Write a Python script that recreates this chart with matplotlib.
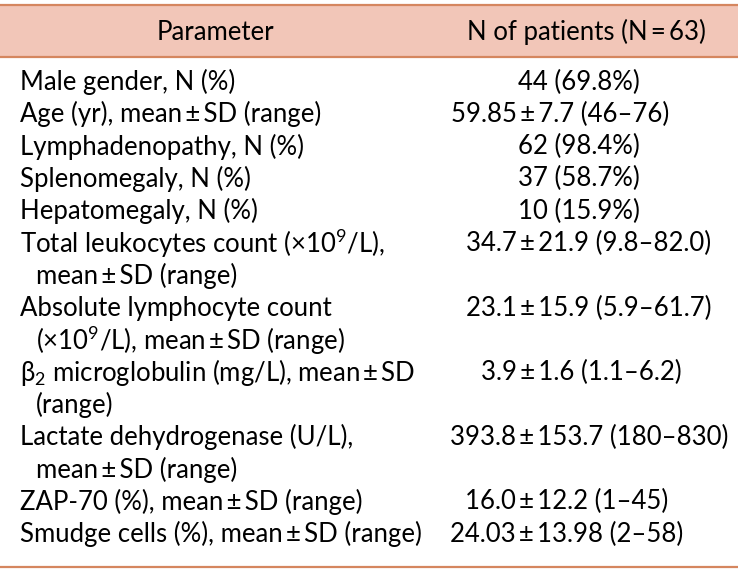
import matplotlib.pyplot as plt
from matplotlib.patches import Rectangle

plt.rcParams['font.family'] = ['Lato', 'DejaVu Sans']
plt.rcParams['mathtext.default'] = 'regular'

PM = "\u2009\u00b1\u2009"   # spaced plus-minus as in the source table
TIMES = "\u00d7"

# table content
headers = ["Parameter", "N of patients (N\u2009=\u200963)"]
parameters = [
    ["Male gender, N (%)"],
    [f"Age (yr), mean{PM}SD (range)"],
    ["Lymphadenopathy, N (%)"],
    ["Splenomegaly, N (%)"],
    ["Hepatomegaly, N (%)"],
    [f"Total leukocytes count ({TIMES}10$^{{9}}$/L),", f"mean{PM}SD (range)"],
    ["Absolute lymphocyte count", f"({TIMES}10$^{{9}}$/L), mean{PM}SD (range)"],
    [f"\u03b2$_{{2}}$ microglobulin (mg/L), mean{PM}SD", "(range)"],
    ["Lactate dehydrogenase (U/L),", f"mean{PM}SD (range)"],
    [f"ZAP-70 (%), mean{PM}SD (range)"],
    [f"Smudge cells (%), mean{PM}SD (range)"],
]
values = [
    "44 (69.8%)",
    f"59.85{PM}7.7 (46\u201376)",
    "62 (98.4%)",
    "37 (58.7%)",
    "10 (15.9%)",
    f"34.7{PM}21.9 (9.8\u201382.0)",
    f"23.1{PM}15.9 (5.9\u201361.7)",
    f"3.9{PM}1.6 (1.1\u20136.2)",
    f"393.8{PM}153.7 (180\u2013830)",
    f"16.0{PM}12.2 (1\u201345)",
    f"24.03{PM}13.98 (2\u201358)",
]

# layout: horizontal centre of each value cell (values are hand-set in the source)
value_x = [579, 560, 579, 579, 579, 589, 589, 581, 589, 567, 567]

W, H = 738, 576
fig = plt.figure(figsize=(W / 100, H / 100), dpi=100)
ax = fig.add_axes([0, 0, 1, 1])
ax.set_xlim(0, W)
ax.set_ylim(H, 0)
ax.axis("off")

fill = "#f2c6b8"
rule = "#d5865f"
fs = 18.5

ax.add_patch(Rectangle((0, 5), W, 52, facecolor=fill, edgecolor="none"))
ax.plot([0, W], [5, 5], color=rule, lw=1.6)
ax.plot([0, W], [57, 57], color=rule, lw=1.6)

ax.text(215, 32, headers[0], ha="center", va="center", fontsize=fs)
ax.text(586, 32, headers[1], ha="center", va="center", fontsize=fs)

y = 82
step = 32.3
for lines, val, vx in zip(parameters, values, value_x):
    ax.text(vx, y, val, ha="center", va="center", fontsize=fs)
    for i, line in enumerate(lines):
        ax.text(20 if i == 0 else 36, y, line, ha="left", va="center", fontsize=fs)
        y += step

ax.plot([0, W], [567, 567], color=rule, lw=1.6)

fig.savefig("out.png", dpi=100)
